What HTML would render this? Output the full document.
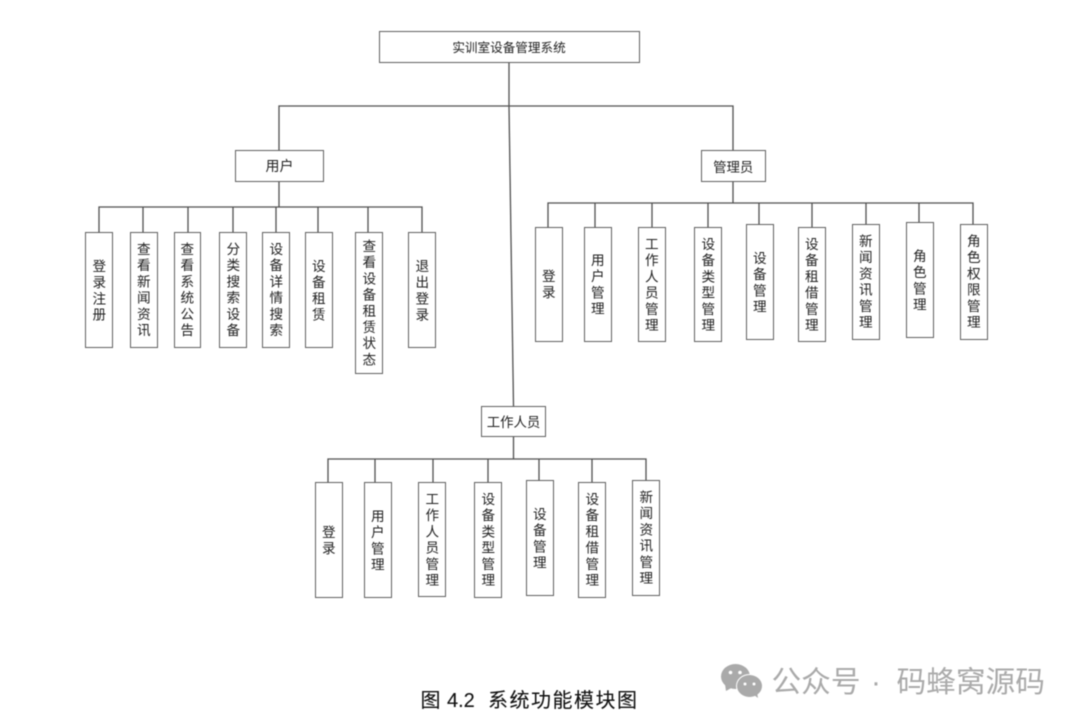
<!DOCTYPE html>
<html lang="zh">
<head>
<meta charset="utf-8">
<title>系统功能模块图</title>
<style>
html,body{margin:0;padding:0;background:#fff}
#c{position:relative;width:1080px;height:725px;overflow:hidden;background:#fff;font-family:"Liberation Sans","Noto Sans CJK SC",sans-serif;filter:blur(.4px)}
svg{position:absolute;left:0;top:0}
.b{position:absolute;box-sizing:border-box;border:1.5px solid #5f5f5f;background:#fff;display:flex;align-items:center;justify-content:center;color:#222;font-size:13.4px;white-space:nowrap}
.v{writing-mode:vertical-rl;text-orientation:upright;letter-spacing:2.6px;line-height:1;font-size:13.6px;padding-right:3px;padding-top:2.5px}
</style>
</head>
<body>
<div id="c">
<svg width="1080" height="725" viewBox="0 0 1080 725">
<g fill="none" stroke="#505050" stroke-width="1.3">
<path d="M509 62V106M279 150V106H733V150M509 106L513.5 406"/>
<path d="M279 181V207M99 232V207H422V232M143 232V207M188 232V207M233 232V207M276 232V207M318 232V207M368 232V207"/>
<path d="M733 181V203M548 227V203H973V224M595 227V203M652 227V203M708 227V203M759 224V203M812 227V203M866 224V203M919 222V203"/>
<path d="M513.5 437V459M328 482V459H646V480M375 482V459M433 482V459M488 482V459M539 480V459M592 482V459"/>
</g>
<g fill="#aaa">
<ellipse cx="735.5" cy="676.5" rx="14.5" ry="12.5"/>
<path d="M725 684L726 691L733 687Z"/>
<ellipse cx="749.5" cy="686" rx="13.5" ry="12" fill="#fff"/>
<ellipse cx="749.5" cy="686" rx="12.5" ry="11"/>
<path d="M754 695L758 698L757 692Z"/>
</g>
<g fill="#fff">
<circle cx="730.5" cy="672.5" r="1.8"/><circle cx="740" cy="672.5" r="1.8"/>
<circle cx="745" cy="684" r="1.5"/><circle cx="754" cy="684" r="1.5"/>
</g>
<g font-size="20" fill="#111" stroke="#111" stroke-width=".1" font-family="'Liberation Sans','Noto Sans CJK SC',sans-serif">
<text x="420.5" y="707">图</text>
<text x="447" y="707">4.2</text>
<text x="488" y="707" letter-spacing="1.5">系统功能模块图</text>
</g>
<g font-size="29.7" fill="#aaa" font-family="'Liberation Sans','Noto Sans CJK SC',sans-serif">
<text x="771.5" y="692">公众号</text>
<text x="871" y="692">·</text>
<text x="896.5" y="692">码蜂窝源码</text>
</g>
</svg>

<div class="b" style="left:378.5px;top:30.5px;width:261px;height:32px;font-size:12.6px">实训室设备管理系统</div>
<div class="b" style="left:235px;top:150px;width:89px;height:31.5px;font-size:14px">用户</div>
<div class="b" style="left:701px;top:150px;width:64.5px;height:31.5px">管理员</div>
<div class="b" style="left:481px;top:405.5px;width:65px;height:31.5px">工作人员</div>

<div class="b v" style="left:85px;top:232px;width:28px;height:115.5px">登录注册</div>
<div class="b v" style="left:129.5px;top:232px;width:28px;height:115.5px">查看新闻资讯</div>
<div class="b v" style="left:173.5px;top:232px;width:27px;height:115.5px">查看系统公告</div>
<div class="b v" style="left:219px;top:232px;width:28px;height:115.5px">分类搜索设备</div>
<div class="b v" style="left:262px;top:232px;width:28px;height:115.5px">设备详情搜索</div>
<div class="b v" style="left:304.5px;top:232px;width:28px;height:115.5px">设备租赁</div>
<div class="b v" style="left:355px;top:232px;width:28px;height:141.5px">查看设备租赁状态</div>
<div class="b v" style="left:408px;top:232px;width:28px;height:115.5px">退出登录</div>

<div class="b v" style="left:534.5px;top:226.5px;width:28px;height:115px">登录</div>
<div class="b v" style="left:583.5px;top:226.5px;width:28px;height:115px">用户管理</div>
<div class="b v" style="left:637.5px;top:226.5px;width:28px;height:115px">工作人员管理</div>
<div class="b v" style="left:694px;top:226.5px;width:28px;height:115px">设备类型管理</div>
<div class="b v" style="left:745.5px;top:224px;width:28px;height:115.5px">设备管理</div>
<div class="b v" style="left:797.5px;top:226.5px;width:28px;height:115px">设备租借管理</div>
<div class="b v" style="left:851.5px;top:224px;width:28px;height:115.5px">新闻资讯管理</div>
<div class="b v" style="left:905.5px;top:222px;width:28px;height:115.5px">角色管理</div>
<div class="b v" style="left:959.5px;top:224px;width:28px;height:115.5px">角色权限管理</div>

<div class="b v" style="left:314.5px;top:482px;width:28px;height:115.5px">登录</div>
<div class="b v" style="left:363.5px;top:482px;width:28px;height:115.5px">用户管理</div>
<div class="b v" style="left:418px;top:482px;width:28px;height:114.5px">工作人员管理</div>
<div class="b v" style="left:474px;top:482px;width:28px;height:115.5px">设备类型管理</div>
<div class="b v" style="left:525.5px;top:480px;width:28px;height:115.5px">设备管理</div>
<div class="b v" style="left:578px;top:482px;width:28px;height:115.5px">设备租借管理</div>
<div class="b v" style="left:632px;top:480px;width:28px;height:115.5px">新闻资讯管理</div>
</div>
</body>
</html>
